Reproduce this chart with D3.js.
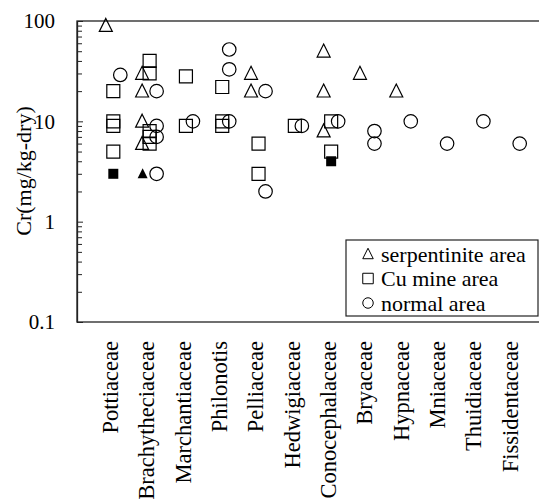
<!DOCTYPE html>
<html>
<head>
<meta charset="utf-8">
<script src="https://cdn.jsdelivr.net/npm/d3@7"></script>
</head>
<body style="margin:0;background:#fff">
<svg id="cr-chart" width="539" height="502" style="display:block"></svg>
<script>
const categories = ["Pottiaceae", "Brachytheciaceae", "Marchantiaceae", "Philonotis",
  "Pelliaceae", "Hedwigiaceae", "Conocephalaceae", "Bryaceae", "Hypnaceae",
  "Mniaceae", "Thuidiaceae", "Fissidentaceae"];

// [category, Cr mg/kg-dry]
const serpentinite = [["Pottiaceae", 90], ["Brachytheciaceae", 30], ["Brachytheciaceae", 20],
  ["Brachytheciaceae", 10], ["Brachytheciaceae", 6], ["Pelliaceae", 30], ["Pelliaceae", 20],
  ["Conocephalaceae", 50], ["Conocephalaceae", 20], ["Conocephalaceae", 8],
  ["Bryaceae", 30], ["Hypnaceae", 20]];
const serpentiniteFilled = [["Brachytheciaceae", 3]];

const cuMine = [["Pottiaceae", 20], ["Pottiaceae", 10], ["Pottiaceae", 9], ["Pottiaceae", 5],
  ["Brachytheciaceae", 40], ["Brachytheciaceae", 30], ["Brachytheciaceae", 8],
  ["Brachytheciaceae", 7], ["Brachytheciaceae", 6], ["Marchantiaceae", 28],
  ["Marchantiaceae", 9], ["Philonotis", 22], ["Philonotis", 10], ["Philonotis", 9],
  ["Pelliaceae", 6], ["Pelliaceae", 3], ["Hedwigiaceae", 9], ["Conocephalaceae", 10],
  ["Conocephalaceae", 5]];
const cuMineFilled = [["Pottiaceae", 3], ["Conocephalaceae", 4]];

const normal = [["Pottiaceae", 29], ["Brachytheciaceae", 20], ["Brachytheciaceae", 9],
  ["Brachytheciaceae", 7], ["Brachytheciaceae", 3], ["Marchantiaceae", 10],
  ["Philonotis", 52], ["Philonotis", 33], ["Philonotis", 10], ["Pelliaceae", 20],
  ["Pelliaceae", 2], ["Hedwigiaceae", 9], ["Conocephalaceae", 10], ["Bryaceae", 8],
  ["Bryaceae", 6], ["Hypnaceae", 10], ["Mniaceae", 6], ["Thuidiaceae", 10],
  ["Fissidentaceae", 6]];

const yTicks = [0.1, 1, 10, 100];
const legendLabels = ["serpentinite area", "Cu mine area", "normal area"];

const serif = '"Liberation Serif"';
const chart = d3.select("#cr-chart");
const margin = { left: 77, top: 21, bottom: 322, right: 549 };

const xScale = d3.scaleLinear().domain([0, categories.length + 1]).range([margin.left, margin.right]);
const yScale = d3.scaleLog().domain([0.1, 100]).range([margin.bottom, margin.top]);
const cx = (d, off) => xScale(categories.indexOf(d[0]) + 1) + off;

function serifText(sel, size) {
  sel.style("font-family", serif, "important").style("font-size", size + "px", "important")
    .attr("fill", "#000");
}

// frame
chart.append("rect")
  .attr("x", margin.left).attr("y", margin.top)
  .attr("width", margin.right - margin.left).attr("height", margin.bottom - margin.top)
  .attr("fill", "none").attr("stroke", "#222").attr("stroke-width", 1.3);

// minor ticks
const minor = [];
for (let e = -1; e < 2; e++) for (let m = 2; m <= 9; m++) minor.push(m * Math.pow(10, e));
chart.append("g")
  .attr("transform", `translate(${margin.left},0)`)
  .call(d3.axisLeft(yScale).tickValues(minor).tickSizeInner(-5).tickSizeOuter(0).tickFormat(""))
  .call(g => g.select(".domain").remove())
  .call(g => g.selectAll("line").attr("stroke", "#222"));

chart.append("g")
  .attr("transform", `translate(${margin.left},0)`)
  .call(d3.axisLeft(yScale).tickValues(yTicks).tickSizeInner(-6).tickSizeOuter(0)
    .tickPadding(22).tickFormat(d => String(d)))
  .attr("font-family", null).attr("font-size", null)
  .call(g => g.select(".domain").attr("stroke", "#222").attr("stroke-width", 1.3))
  .call(g => g.selectAll("line").attr("stroke", "#222"))
  .call(g => g.selectAll("text").call(serifText, 21));

// y title
chart.append("text")
  .attr("transform", "translate(23,171) rotate(-90)")
  .attr("text-anchor", "middle").attr("dy", "0.35em")
  .call(serifText, 22).text("Cr(mg/kg-dry)");

// category labels
chart.append("g").selectAll("text")
  .data(categories)
  .join("text")
  .attr("transform", (d, i) => `translate(${xScale(i + 1) - 3},341) rotate(-90)`)
  .attr("text-anchor", "end").attr("dy", "0.35em")
  .call(serifText, 22.5).text(d => d);

// marker shapes
const tri = s => `M0,${-s * 0.55}L${s / 2},${s * 0.45}L${-s / 2},${s * 0.45}Z`;
const sq = s => `M${-s / 2},${-s / 2}h${s}v${s}h${-s}Z`;
const circ = s => d3.symbol(d3.symbolCircle, Math.PI * s * s / 4)();

function markers(data, shape, size, off, filled) {
  chart.append("g").selectAll("path")
    .data(data)
    .join("path")
    .attr("transform", d => `translate(${cx(d, off)},${yScale(d[1])})`)
    .attr("d", shape(size))
    .attr("fill", filled ? "#000" : "none")
    .attr("stroke", "#000")
    .attr("stroke-width", filled ? 0 : 1.2);
}

markers(serpentinite, tri, 13, -7.5, false);
markers(cuMine, sq, 13, 0, false);
markers(normal, circ, 13.5, 7, false);
markers(serpentiniteFilled, tri, 10, -7, true);
markers(cuMineFilled, sq, 10, 0, true);

// legend
const lg = chart.append("g");
lg.append("rect")
  .attr("x", 346).attr("y", 240).attr("width", 192).attr("height", 76)
  .attr("fill", "#fff").attr("stroke", "#222").attr("stroke-width", 1.2);
const legendShapes = [tri, sq, circ];
legendLabels.forEach((t, i) => {
  const ly = 254 + i * 24.5;
  lg.append("path")
    .attr("transform", `translate(368,${ly})`)
    .attr("d", legendShapes[i](10.5))
    .attr("fill", "none").attr("stroke", "#000").attr("stroke-width", 1);
  lg.append("text")
    .attr("x", 381).attr("y", ly).attr("dy", "0.35em")
    .call(serifText, 22).text(t);
});
</script>
</body>
</html>
